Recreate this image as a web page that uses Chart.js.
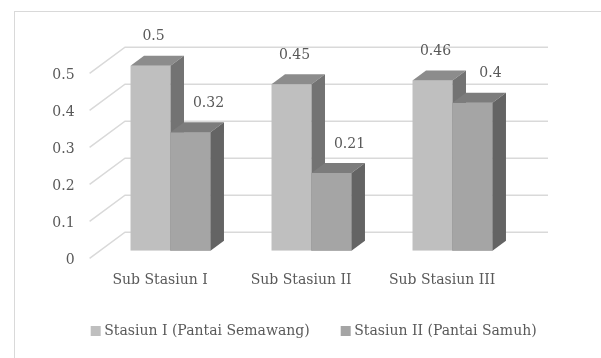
<!DOCTYPE html>
<html>
<head>
<meta charset="utf-8">
<script src="https://cdn.jsdelivr.net/npm/chart.js@4/dist/chart.umd.min.js"></script>
<style>
  html, body { margin: 0; padding: 0; background: #ffffff; }
  #wrap { width: 601px; height: 358px; }
</style>
</head>
<body>
<div id="wrap"><canvas id="c" width="601" height="358"></canvas></div>
<script>
// Data
const categories = ['Sub Stasiun I', 'Sub Stasiun II', 'Sub Stasiun III'];
const seriesNames = ['Stasiun I (Pantai Semawang)', 'Stasiun II (Pantai Samuh)'];
const stasiunI = [0.5, 0.45, 0.46];
const stasiunII = [0.32, 0.21, 0.4];
const yTicks = [0, 0.1, 0.2, 0.3, 0.4, 0.5];

// Styling
const FONT = '14px "DejaVu Serif"';
const TEXT = '#595959';
const GRID = '#d9d9d9';
const DEPTH = { dx: 13.5, dy: -10 };   // bar thickness toward the back wall
const BACK = { dx: 25, dy: -18.5 };    // back wall relative to bar plane
const FRONT = { dx: -10.4, dy: 7.7 };  // axis plane relative to bar plane
const faces = [
  { front: '#bfbfbf', top: '#8c8c8c', side: '#737373' },
  { front: '#a5a5a5', top: '#7c7c7c', side: '#646464' }
];
const labelShift = [3, 18];

function drawFaces(ctx, bar, f) {
  const p = bar.getProps(['x', 'y', 'base', 'width'], true);
  const l = p.x - p.width / 2, r = p.x + p.width / 2;
  ctx.fillStyle = f.top;
  ctx.beginPath();
  ctx.moveTo(l, p.y);
  ctx.lineTo(l + DEPTH.dx, p.y + DEPTH.dy);
  ctx.lineTo(r + DEPTH.dx, p.y + DEPTH.dy);
  ctx.lineTo(r, p.y);
  ctx.closePath();
  ctx.fill();
  ctx.fillStyle = f.side;
  ctx.beginPath();
  ctx.moveTo(r, p.y);
  ctx.lineTo(r + DEPTH.dx, p.y + DEPTH.dy);
  ctx.lineTo(r + DEPTH.dx, p.base + DEPTH.dy);
  ctx.lineTo(r, p.base);
  ctx.closePath();
  ctx.fill();
}

const bar3d = {
  id: 'bar3d',
  beforeDraw(chart) {
    const ctx = chart.ctx;
    ctx.save();
    ctx.strokeStyle = GRID;
    ctx.lineWidth = 1;
    ctx.strokeRect(14.5, 11.5, 640, 400);
    ctx.restore();
  },
  beforeDatasetsDraw(chart) {
    const { ctx, chartArea: a, scales: { x, y } } = chart;
    ctx.save();
    ctx.strokeStyle = GRID;
    ctx.lineWidth = 1.5;
    ctx.font = FONT;
    ctx.fillStyle = TEXT;
    yTicks.forEach(v => {
      const py = y.getPixelForValue(v);
      ctx.beginPath();
      ctx.moveTo(a.left + FRONT.dx, py + FRONT.dy);
      ctx.lineTo(a.left + BACK.dx, py + BACK.dy);
      ctx.lineTo(a.right + BACK.dx, py + BACK.dy);
      ctx.stroke();
      ctx.textAlign = 'right';
      ctx.textBaseline = 'middle';
      ctx.fillText(String(v), a.left + FRONT.dx - 15, py + FRONT.dy + 2);
    });
    const y0 = y.getPixelForValue(0);
    categories.forEach((c, i) => {
      const px = x.getPixelForValue(i);
      ctx.textAlign = 'center';
      ctx.textBaseline = 'middle';
      ctx.fillText(c, px + FRONT.dx, y0 + FRONT.dy + 21.5);
    });
    ctx.restore();
  },
  afterDatasetsDraw(chart) {
    const ctx = chart.ctx;
    ctx.save();
    // depth faces: left series first, right series (front face included) over it
    chart.data.datasets.forEach((ds, di) => {
      const meta = chart.getDatasetMeta(di);
      meta.data.forEach(bar => {
        if (di > 0) bar.draw(ctx);
        drawFaces(ctx, bar, faces[di]);
      });
    });
    ctx.font = FONT;
    ctx.fillStyle = TEXT;
    ctx.textAlign = 'center';
    ctx.textBaseline = 'middle';
    chart.data.datasets.forEach((ds, di) => {
      const meta = chart.getDatasetMeta(di);
      meta.data.forEach((bar, i) => {
        const p = bar.getProps(['x', 'y'], true);
        ctx.fillText(String(ds.data[i]), p.x + labelShift[di], p.y - 29);
      });
    });
    // legend
    const legendX = [90.7, 340.7];
    const ly = 331;
    seriesNames.forEach((name, i) => {
      ctx.fillStyle = faces[i].front;
      ctx.fillRect(legendX[i], ly - 5, 10, 10);
      ctx.fillStyle = TEXT;
      ctx.textAlign = 'left';
      ctx.fillText(name, legendX[i] + 13.5, ly);
    });
    ctx.restore();
  }
};

new Chart(document.getElementById('c'), {
  type: 'bar',
  data: {
    labels: categories,
    datasets: [
      { label: seriesNames[0], data: stasiunI, backgroundColor: faces[0].front,
        barPercentage: 1.0, categoryPercentage: 0.567 },
      { label: seriesNames[1], data: stasiunII, backgroundColor: faces[1].front,
        barPercentage: 1.0, categoryPercentage: 0.567 }
    ]
  },
  options: {
    responsive: false,
    devicePixelRatio: 1,
    animation: false,
    layout: { padding: { left: 100, right: 78, top: 65.7, bottom: 107.3 } },
    scales: {
      x: { display: false },
      y: { display: false, min: 0, max: 0.5 }
    },
    plugins: { legend: { display: false }, tooltip: { enabled: false } }
  },
  plugins: [bar3d]
});
</script>
</body>
</html>
